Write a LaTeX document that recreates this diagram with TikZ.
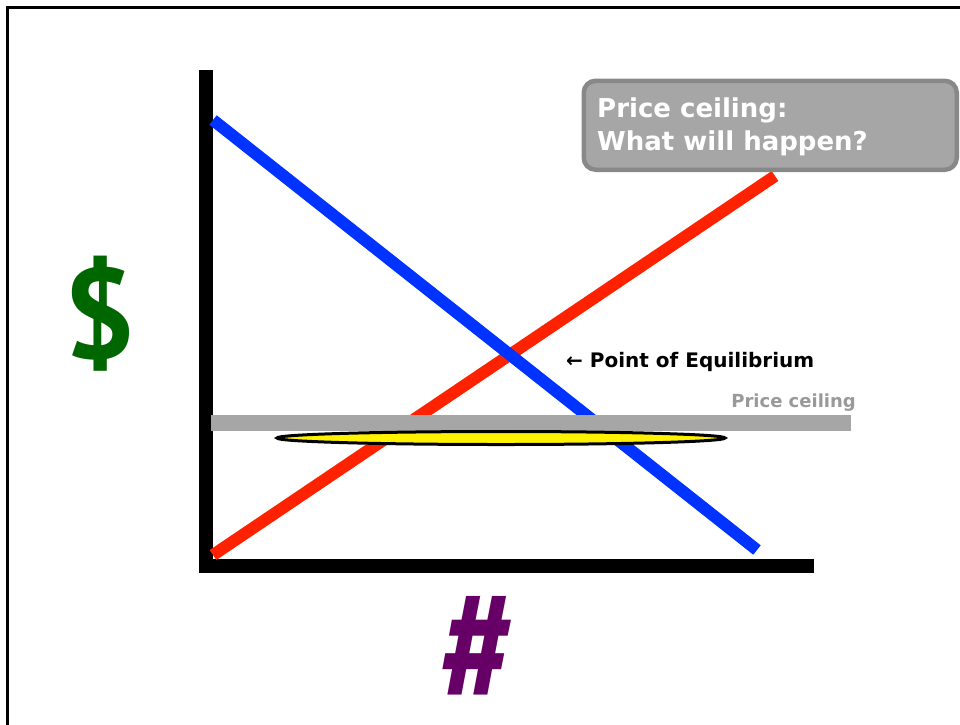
\documentclass[tikz,border=0pt]{standalone}
\usepackage{fontspec}
\setmainfont{DejaVu Sans}
\newfontfamily\ptfont{PT Sans}
\usetikzlibrary{shapes.geometric}
\definecolor{ceilgray}{HTML}{A6A6A6}
\definecolor{boxedge}{HTML}{888888}
\definecolor{labelgray}{HTML}{999999}
\definecolor{dgreen}{HTML}{006600}
\definecolor{dpurple}{HTML}{660066}
\definecolor{supred}{HTML}{FF2200}
\definecolor{demblue}{HTML}{0033FF}
\begin{document}
\begin{tikzpicture}[x=1pt,y=-1pt,
  axisline/.style={line width=14pt,black},
  curve/.style={line width=12pt},
  boldlabel/.style={font=\bfseries, inner sep=0pt},
  boxline/.style={anchor=base west,text=white,inner sep=0pt,font=\bfseries\fontsize{26}{30}\selectfont}]
\useasboundingbox (0,0) rectangle (960,724);
\begin{scope}
\clip (0,0) rectangle (960,724);
\draw[line width=3pt] (7,740) -- (7,7) -- (980,7);
\end{scope}
% axes
\coordinate (ytop) at (206,70);
\coordinate (xend) at (814,566);
\draw[axisline] (ytop) -- (206,573);
\draw[axisline] (199,566) -- (xend);
% curves
\coordinate (sA) at (213,555);
\coordinate (sB) at (775,176);
\coordinate (dA) at (213,120);
\coordinate (dB) at (757,550);
\draw[curve,supred] (sA) -- (sB);
\draw[curve,demblue] (dA) -- (dB);
% price ceiling bar
\coordinate (cA) at (211,423);
\coordinate (cB) at (851,423);
\draw[line width=16pt,ceilgray] (cA) -- (cB);
\node[boldlabel,text=labelgray,font=\bfseries\fontsize{18}{22}\selectfont,anchor=base east] (ceillabel) at (856,407) {Price ceiling};
% shortage ellipse
\node[draw=black,line width=3pt,fill=yellow,ellipse,inner sep=0pt,minimum width=448pt,minimum height=13pt] (short) at (501,438) {};
% equilibrium label
\node[boldlabel,anchor=base west,font=\bfseries\fontsize{20}{24}\selectfont] (eq) at (566,367) {← Point of Equilibrium};
% question box
\node[draw=boxedge,line width=4.5pt,fill=ceilgray,rounded corners=12pt,minimum width=373pt,minimum height=89pt,anchor=north west] (qbox) at (581.5,78.5) {};
\node[boxline] (qline1) at (597,117) {Price ceiling:};
\node[boxline] (qline2) at (597,150) {What will happen?};
% axis symbols
\node[text=dgreen,inner sep=0pt,font=\ptfont\bfseries\fontsize{128}{128}\selectfont] (dollar) at (100,314) {\$};
\node[text=dpurple,inner sep=0pt,font=\ptfont\bfseries\itshape\fontsize{165}{165}\selectfont] (hash) at (472,650) {\scalebox{0.8}[1]{\#}};
\end{tikzpicture}
\end{document}
